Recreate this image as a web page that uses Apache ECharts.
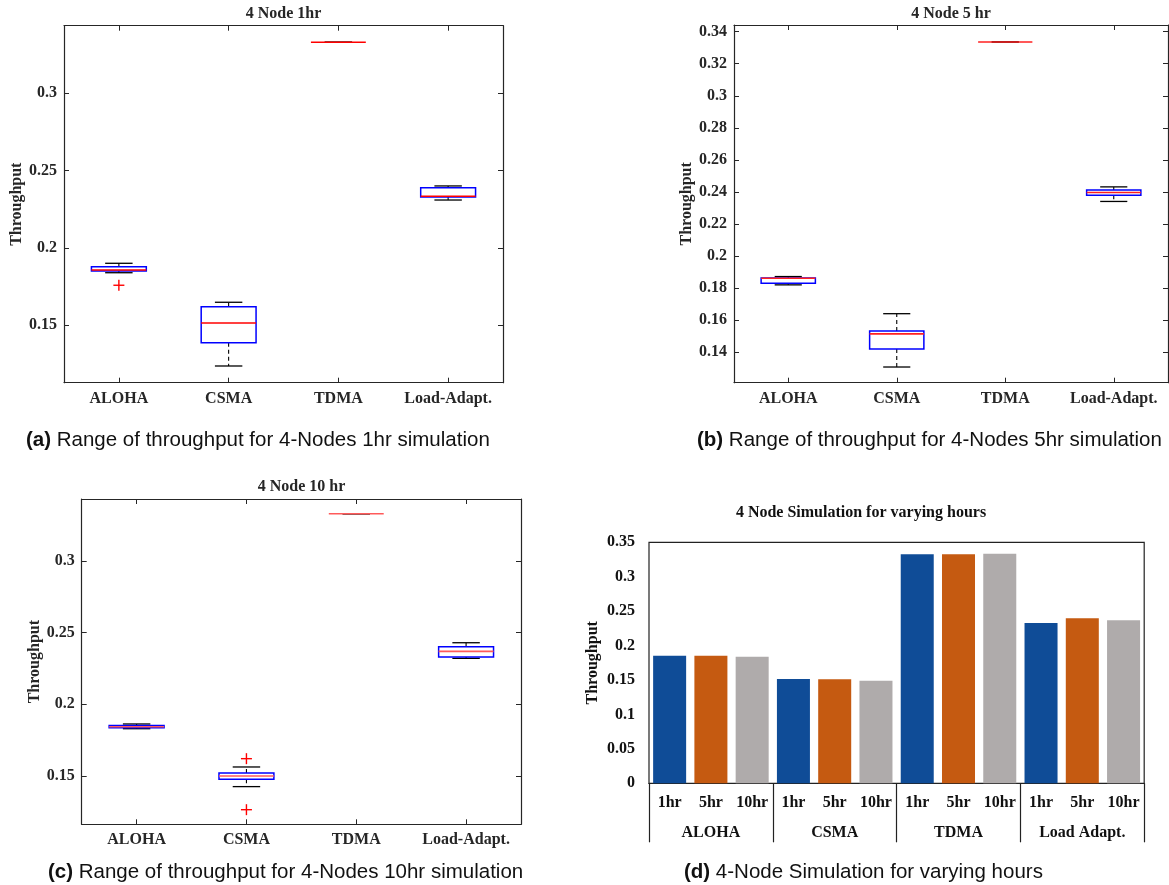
<!DOCTYPE html>
<html><head><meta charset="utf-8">
<script src="https://cdn.jsdelivr.net/npm/echarts@6/dist/echarts.min.js"></script>
<style>html,body{margin:0;padding:0;background:#fff}#c{width:1169px;height:885px}</style>
</head><body><div id="c"></div>
<script>
// ---------------- data ----------------
const protocols = ['ALOHA', 'CSMA', 'TDMA', 'Load-Adapt.'];
// box stats per protocol: [whiskerLow, q1, median, q3, whiskerHigh]
const box1hr = [
  [0.1840, 0.1851, 0.1858, 0.1879, 0.1901],
  [0.1237, 0.1388, 0.1515, 0.1620, 0.1649],
  [0.3330, 0.3330, 0.3330, 0.3330, 0.3330],
  [0.2310, 0.2330, 0.2334, 0.2390, 0.2401]
];
const outliers1hr = [[0, 0.1759]];
const box5hr = [
  [0.1819, 0.1829, 0.1860, 0.1862, 0.1871],
  [0.1306, 0.1419, 0.1513, 0.1531, 0.1639],
  [0.3336, 0.3336, 0.3336, 0.3336, 0.3336],
  [0.2340, 0.2379, 0.2396, 0.2412, 0.2431]
];
const outliers5hr = [];
const box10hr = [
  [0.1830, 0.1837, 0.1844, 0.1853, 0.1863],
  [0.1426, 0.1477, 0.1500, 0.1521, 0.1563],
  [0.3330, 0.3330, 0.3330, 0.3330, 0.3330],
  [0.2321, 0.2330, 0.2370, 0.2402, 0.2430]
];
const outliers10hr = [[1, 0.1621], [1, 0.1265]];
const yTicks1hr = [0.15, 0.2, 0.25, 0.3];
const yTicks5hr = [0.14, 0.16, 0.18, 0.2, 0.22, 0.24, 0.26, 0.28, 0.3, 0.32, 0.34];
const yTicks10hr = [0.15, 0.2, 0.25, 0.3];

const barGroups = ['ALOHA', 'CSMA', 'TDMA', 'Load Adapt.'];
const hours = ['1hr', '5hr', '10hr'];
const bar1hr = [0.1853, 0.1515, 0.3326, 0.2328];
const bar5hr = [0.1853, 0.1510, 0.3326, 0.2396];
const bar10hr = [0.1838, 0.1490, 0.3335, 0.2367];

// ---------------- styles ----------------
const SERIF = '"Liberation Serif", "Times New Roman", serif';
const SANS = '"Liberation Sans", Arial, Helvetica, sans-serif';
const AX = '#262626';
const hourColors = ['#0F4C97', '#C55A11', '#AFABAB'];

function fmt(v) { return String(+(+v).toFixed(2)); }

const boxPanels = [
  { title: '4 Node 1hr', box: box1hr, out: outliers1hr, ticks: yTicks1hr, min: 0.1129, max: 0.3437,
    grid: { left: 64, right: 666, top: 25.7, height: 357 }, nameGap: 37, tx: 283.5, ty: 14, med: '#ff0000' },
  { title: '4 Node 5 hr', box: box5hr, out: outliers5hr, ticks: yTicks5hr, min: 0.1208, max: 0.3442,
    grid: { left: 734, right: 1, top: 25, height: 357.7 }, nameGap: 39, tx: 951, ty: 13.5, med: '#ff2020' },
  { title: '4 Node 10 hr', box: box10hr, out: outliers10hr, ticks: yTicks10hr, min: 0.1163, max: 0.3433,
    grid: { left: 81.7, right: 648, top: 499, height: 325.3 }, nameGap: 35, tx: 301.5, ty: 487, med: '#ff5a5a' }
];

const grids = [], xAxes = [], yAxes = [], series = [], graphics = [];

function boxRenderer(medColor) {
  return function (params, api) {
    const x = api.value(0);
    const lo = api.coord([x, api.value(1)]);
    const q1 = api.coord([x, api.value(2)]);
    const md = api.coord([x, api.value(3)]);
    const q3 = api.coord([x, api.value(4)]);
    const hi = api.coord([x, api.value(5)]);
    const bw = api.size([1, 0])[0] * 0.5;
    const cw = bw * 0.5;
    const cx = md[0];
    const ch = [];
    const dash = { stroke: '#000', lineWidth: 1.1, lineDash: [4, 3] };
    const solid = { stroke: '#000', lineWidth: 1.3 };
    if (hi[1] < q3[1]) ch.push({ type: 'line', shape: { x1: cx, y1: q3[1], x2: cx, y2: hi[1] }, style: dash });
    if (lo[1] > q1[1]) ch.push({ type: 'line', shape: { x1: cx, y1: q1[1], x2: cx, y2: lo[1] }, style: dash });
    ch.push({ type: 'line', shape: { x1: cx - cw / 2, y1: hi[1], x2: cx + cw / 2, y2: hi[1] }, style: solid });
    ch.push({ type: 'line', shape: { x1: cx - cw / 2, y1: lo[1], x2: cx + cw / 2, y2: lo[1] }, style: solid });
    if (q1[1] - q3[1] > 0.5) ch.push({ type: 'rect', shape: { x: cx - bw / 2, y: q3[1], width: bw, height: q1[1] - q3[1] }, style: { fill: 'none', stroke: '#0000ff', lineWidth: 1.5 } });
    ch.push({ type: 'line', shape: { x1: cx - bw / 2, y1: md[1], x2: cx + bw / 2, y2: md[1] }, style: { stroke: medColor, lineWidth: 1.6 } });
    return { type: 'group', children: ch };
  };
}
function plusRenderer(params, api) {
  const p = api.coord([api.value(0), api.value(1)]);
  const s = 5.5;
  const st = { stroke: '#ff0000', lineWidth: 1.4 };
  return { type: 'group', children: [
    { type: 'line', shape: { x1: p[0] - s, y1: p[1], x2: p[0] + s, y2: p[1] }, style: st },
    { type: 'line', shape: { x1: p[0], y1: p[1] - s, x2: p[0], y2: p[1] + s }, style: st }
  ] };
}

const axLine = { show: true, onZero: false, lineStyle: { color: AX, width: 1.2 } };
boxPanels.forEach((pn, gi) => {
  grids.push(Object.assign({ containLabel: false }, pn.grid));
  const xi = xAxes.length, yi = yAxes.length;
  xAxes.push({
    type: 'category', gridIndex: gi, data: protocols, position: 'bottom',
    axisLine: axLine,
    axisTick: { show: true, inside: true, alignWithLabel: true, length: 5, lineStyle: { color: AX } },
    axisLabel: { interval: 0, margin: 8, color: AX, fontFamily: SERIF, fontWeight: 'bold', fontSize: 16 },
    splitLine: { show: false }
  });
  xAxes.push({
    type: 'category', gridIndex: gi, data: protocols, position: 'top',
    axisLine: axLine,
    axisTick: { show: true, inside: true, alignWithLabel: true, length: 5, lineStyle: { color: AX } },
    axisLabel: { show: false }, splitLine: { show: false }
  });
  yAxes.push({
    type: 'value', gridIndex: gi, min: pn.min, max: pn.max, position: 'left',
    axisLine: axLine,
    axisTick: { show: true, inside: true, length: 5, customValues: pn.ticks, lineStyle: { color: AX } },
    axisLabel: { customValues: pn.ticks, formatter: fmt, margin: 7, color: AX, fontFamily: SERIF, fontWeight: 'bold', fontSize: 16 },
    splitLine: { show: false },
    name: 'Throughput', nameLocation: 'middle', nameGap: pn.nameGap,
    nameTextStyle: { color: AX, fontFamily: SERIF, fontWeight: 'bold', fontSize: 16 }
  });
  yAxes.push({
    type: 'value', gridIndex: gi, min: pn.min, max: pn.max, position: 'right',
    axisLine: axLine,
    axisTick: { show: true, inside: true, length: 5, customValues: pn.ticks, lineStyle: { color: AX } },
    axisLabel: { show: false }, splitLine: { show: false }
  });
  series.push({
    type: 'custom', xAxisIndex: xi, yAxisIndex: yi,
    renderItem: boxRenderer(pn.med),
    encode: { x: 0, y: [1, 2, 3, 4, 5] },
    data: pn.box.map((b, i) => [i].concat(b)), z: 3
  });
  if (pn.out.length) series.push({
    type: 'custom', xAxisIndex: xi, yAxisIndex: yi,
    renderItem: plusRenderer, encode: { x: 0, y: 1 },
    data: pn.out, z: 4
  });
  graphics.push({ type: 'text', x: pn.tx, y: pn.ty,
    style: { text: pn.title, fill: AX, fontFamily: SERIF, fontWeight: 'bold', fontSize: 16, align: 'center', verticalAlign: 'middle' } });
});

// ---------------- bar panel (d) ----------------
const gd = grids.length;
grids.push({ left: 649, right: 24.8, top: 542.3, height: 241, show: true, borderColor: '#222', borderWidth: 1.2, backgroundColor: 'transparent' });
const barCats = [];
barGroups.forEach(g => hours.forEach(h => barCats.push(h)));
const barSets = [bar1hr, bar5hr, bar10hr];
const barData = [];
barGroups.forEach((g, gi2) => hours.forEach((h, hi2) => {
  barData.push({ value: barSets[hi2][gi2], itemStyle: { color: hourColors[hi2] } });
}));
const bxi = xAxes.length;
xAxes.push({
  type: 'category', gridIndex: gd, data: barCats, position: 'bottom',
  axisLine: { show: true, onZero: false, lineStyle: { color: '#222', width: 1.2 } },
  axisTick: { show: false },
  axisLabel: { interval: 0, margin: 12, color: '#111', fontFamily: SERIF, fontWeight: 'bold', fontSize: 16 }
});
xAxes.push({
  type: 'category', gridIndex: gd, data: barGroups, position: 'bottom',
  axisLine: { show: false, onZero: false },
  axisTick: { show: true, length: 59, inside: false, interval: 0, lineStyle: { color: '#222', width: 1.2 } },
  axisLabel: { interval: 0, margin: 42, color: '#111', fontFamily: SERIF, fontWeight: 'bold', fontSize: 16 }
});
const byi = yAxes.length;
yAxes.push({
  type: 'value', gridIndex: gd, min: 0, max: 0.35, interval: 0.05,
  axisLine: { show: false }, axisTick: { show: false }, splitLine: { show: false },
  axisLabel: { formatter: fmt, margin: 14, color: '#111', fontFamily: SERIF, fontWeight: 'bold', fontSize: 16 },
  name: 'Throughput', nameLocation: 'middle', nameGap: 48,
  nameTextStyle: { color: '#111', fontFamily: SERIF, fontWeight: 'bold', fontSize: 16 }
});
series.push({
  type: 'bar', xAxisIndex: bxi, yAxisIndex: byi, data: barData,
  barCategoryGap: '20%'
});
graphics.push({ type: 'text', x: 861, y: 513,
  style: { text: '4 Node Simulation for varying hours', fill: '#111', fontFamily: SERIF, fontWeight: 'bold', fontSize: 16, align: 'center', verticalAlign: 'middle' } });

// ---------------- captions ----------------
const captions = [
  ['(a)', 'Range of throughput for 4-Nodes 1hr simulation', 26, 440],
  ['(b)', 'Range of throughput for 4-Nodes 5hr simulation', 697, 440],
  ['(c)', 'Range of throughput for 4-Nodes 10hr simulation', 48, 872],
  ['(d)', '4-Node Simulation for varying hours', 684, 872]
];
captions.forEach(c => graphics.push({ type: 'text', x: c[2], y: c[3],
  style: { text: '{b|' + c[0] + '} ' + c[1], fill: '#111', fontFamily: SANS, fontSize: 20.5, align: 'left', verticalAlign: 'middle',
    rich: { b: { fontWeight: 'bold', fontFamily: SANS, fontSize: 20.5, fill: '#111' } } } }));

const chart = echarts.init(document.getElementById('c'), null, { renderer: 'canvas' });
chart.setOption({
  backgroundColor: '#fff', animation: false,
  grid: grids, xAxis: xAxes, yAxis: yAxes, series: series, graphic: graphics
});
</script></body></html>
